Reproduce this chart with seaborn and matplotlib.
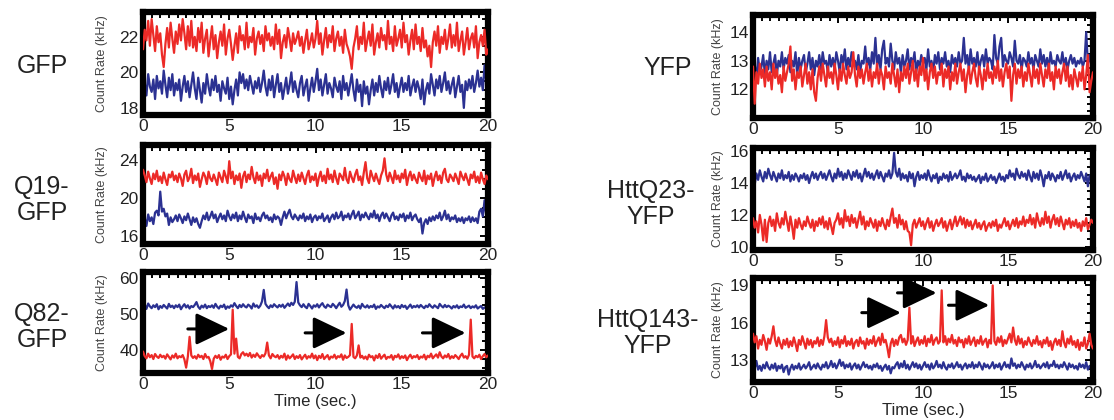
import numpy as np
import pandas as pd
import matplotlib
matplotlib.use("Agg")
import matplotlib.pyplot as plt
from matplotlib.ticker import AutoMinorLocator
import seaborn as sns

# ---- fluorescence count-rate traces (kHz), one sample every 0.1 s over 20 s ----
DT = 0.1

gfp_red = [
    21.3, 22.4, 21.8, 22.9, 21.5, 23.0, 22.1, 21.2, 22.6, 21.7,
    22.2, 21.0, 20.3, 21.6, 22.5, 21.4, 22.8, 21.9, 21.1, 22.3,
    21.6, 22.7, 21.8, 23.0, 22.2, 21.3, 22.6, 21.5, 22.9, 21.4,
    22.0, 21.2, 22.5, 21.7, 22.8, 21.1, 21.9, 22.4, 20.9, 21.8,
    22.6, 21.3, 22.1, 20.8, 21.7, 22.3, 21.5, 22.7, 21.0, 21.9,
    22.4, 21.6, 20.7, 21.5, 22.2, 21.1, 22.6, 21.8, 22.1, 21.3,
    22.8, 21.4, 22.0, 21.7, 22.5, 21.0, 21.9, 22.3, 21.6, 22.1,
    21.2, 22.6, 21.8, 22.2, 21.5, 22.0, 21.3, 22.7, 21.6, 22.4,
    20.8, 21.7, 22.1, 21.4, 22.5, 21.9, 21.2, 22.2, 21.6, 21.9,
    22.3, 21.5, 22.0, 21.1, 21.8, 22.4, 21.3, 21.7, 22.2, 21.4,
    21.9, 22.9, 21.6, 22.2, 21.0, 21.8, 22.5, 21.4, 22.1, 21.7,
    22.6, 21.2, 21.9, 22.3, 21.5, 22.0, 21.1, 22.4, 21.6, 21.3,
    20.9, 20.2, 21.4, 21.9, 22.6, 21.3, 22.0, 21.6, 22.8, 21.2,
    21.8, 22.3, 21.5, 22.7, 21.0, 21.7, 22.2, 21.4, 22.5, 21.8,
    22.1, 21.3, 22.9, 21.6, 22.0, 21.2, 22.6, 21.5, 21.9, 22.4,
    21.4, 22.8, 21.7, 22.1, 21.0, 21.8, 22.4, 21.3, 22.7, 21.6,
    22.0, 21.2, 22.5, 21.4, 21.8, 20.9, 21.5, 20.3, 21.7, 22.3,
    21.5, 22.6, 21.1, 22.0, 21.6, 22.4, 21.3, 21.9, 22.7, 21.4,
    22.1, 21.5, 22.8, 21.2, 21.8, 22.3, 21.0, 21.7, 22.5, 21.3,
    21.9, 22.2, 21.4, 22.6, 20.8, 21.7, 22.1, 21.5, 22.4, 21.0,
    21.3,
]
gfp_blue = [
    20.3, 19.4, 18.7, 19.9, 19.2, 18.9, 19.6, 18.5, 19.8, 19.1,
    19.5, 18.8, 20.1, 19.3, 18.6, 19.7, 19.0, 19.9, 18.7, 19.4,
    19.0, 19.6, 18.4, 19.2, 19.8, 18.9, 19.5, 18.6, 19.3, 20.0,
    19.1, 18.5, 19.7, 19.0, 18.3, 19.4, 18.8, 19.9, 19.2, 18.7,
    19.6, 19.0, 19.8, 18.9, 19.3, 18.4, 19.5, 19.1, 18.8, 19.7,
    18.5, 19.2, 18.2, 19.0, 19.6, 18.7, 20.0, 19.4, 19.9, 19.1,
    19.6, 19.0, 19.8, 19.3, 18.8, 19.5, 19.1, 19.7, 18.9, 19.4,
    20.1, 19.2, 18.7, 19.6, 19.0, 19.8, 18.6, 19.3, 19.9, 18.9,
    19.4, 18.5, 19.1, 19.7, 18.8, 19.3, 20.0, 18.9, 19.5, 19.0,
    18.6, 19.4, 19.8, 18.7, 19.2, 19.6, 18.4, 19.1, 19.7, 18.9,
    19.5, 20.2, 19.0, 19.6, 18.7, 19.3, 19.9, 18.8, 19.4, 19.1,
    18.6, 19.7, 19.2, 18.9, 19.5, 18.5, 19.8, 19.0, 19.4, 18.7,
    19.3, 19.9, 19.0, 18.4, 19.6, 18.9, 19.3, 18.1, 19.5, 18.8,
    19.2, 18.2, 19.0, 19.6, 18.7, 19.4, 18.9, 19.8, 19.1, 18.6,
    19.5, 19.0, 19.7, 18.8, 19.3, 19.9, 18.9, 19.4, 18.6, 19.2,
    19.7, 18.9, 19.4, 19.0, 19.8, 18.7, 19.2, 19.6, 18.9, 19.5,
    19.1, 18.5, 19.6, 18.2, 19.0, 19.4, 18.8, 19.9, 19.3, 18.7,
    19.6, 19.1, 19.8, 18.9, 19.4, 20.0, 19.0, 19.5, 18.8, 19.3,
    19.7, 18.6, 19.2, 19.8, 18.9, 19.3, 18.0, 19.5, 19.0, 19.6,
    19.1, 19.8, 18.9, 19.4, 20.1, 19.2, 19.7, 19.0, 20.4, 19.5,
    19.2,
]
q19_red = [
    23.0, 22.4, 21.7, 22.8, 22.1, 21.5, 22.6, 22.0, 22.9, 21.8,
    22.3, 21.6, 22.7, 22.0, 21.4, 22.5, 22.2, 22.8, 21.9, 22.4,
    21.7, 22.6, 22.1, 21.3, 22.5, 22.9, 21.8, 22.2, 23.1, 21.6,
    22.4, 21.9, 22.6, 21.2, 22.0, 22.7, 22.3, 21.5, 22.8, 22.1,
    21.8, 22.5, 22.0, 21.4, 22.7, 22.2, 21.7, 22.9, 22.3, 21.6,
    23.9, 22.1, 22.8, 21.5, 22.4, 21.9, 22.6, 21.1, 22.3, 22.8,
    21.7, 22.5, 22.0, 23.3, 22.2, 21.6, 22.7, 21.9, 22.4, 21.3,
    22.6, 22.1, 23.0, 21.8, 22.3, 22.7, 21.5, 22.2, 21.0, 22.5,
    21.9, 22.8, 22.3, 21.4, 22.6, 22.0, 21.7, 22.9, 22.2, 21.6,
    22.5, 21.8, 22.7, 22.1, 21.5, 22.4, 22.9, 21.7, 22.3, 21.9,
    22.6, 21.3, 22.2, 22.8, 21.8, 22.4, 21.6, 23.1, 22.0, 22.5,
    21.7, 22.9, 22.1, 21.5, 22.6, 22.3, 21.9, 23.2, 22.0, 21.6,
    22.8, 22.2, 21.7, 22.5, 23.0, 21.9, 22.3, 21.4, 22.7, 23.8,
    22.1, 21.6, 22.9, 22.3, 21.8, 22.6, 22.0, 21.5, 22.4, 22.9,
    24.2, 22.5, 21.8, 22.7, 22.2, 21.6, 22.9, 22.0, 22.4, 21.7,
    22.6, 22.1, 23.0, 21.4, 22.3, 22.8, 21.9, 22.5, 22.0, 21.6,
    22.7, 22.2, 21.8, 22.9, 21.5, 22.4, 22.0, 22.6, 21.3, 22.2,
    22.8, 21.9, 22.4, 21.6, 22.7, 23.1, 22.0, 21.7, 22.5, 22.2,
    21.8, 22.6, 22.1, 21.5, 22.8, 22.3, 21.9, 22.6, 22.0, 21.4,
    22.5, 22.1, 22.8, 21.7, 22.3, 21.6, 22.7, 22.0, 21.5, 22.4,
    22.0,
]
q19_blue = [
    17.4, 17.9, 17.1, 18.3, 17.6, 18.0, 17.3, 18.5, 18.7, 18.2,
    20.7, 18.6, 18.9, 18.1, 18.4, 17.2, 18.0, 17.5, 17.8, 18.2,
    17.6, 18.3, 17.9, 17.4, 18.1, 17.7, 18.4, 17.8, 17.2, 18.0,
    17.5, 17.9, 17.3, 16.9, 17.6, 18.2, 17.8, 18.5, 17.7, 18.1,
    18.6, 17.9, 18.3, 17.5, 18.0, 18.4, 17.8, 18.2, 17.6, 18.7,
    18.1, 17.7, 18.3, 17.9, 18.5, 17.6, 18.2, 17.8, 18.6, 18.0,
    17.5, 18.3, 17.9, 18.1, 17.4, 18.4, 17.8, 18.0, 17.6, 18.2,
    18.5, 17.9, 18.2, 17.7, 18.0, 17.5, 18.3, 17.8, 18.1, 17.9,
    17.2, 18.0, 18.6, 17.9, 18.4, 18.8, 18.1, 17.8, 18.3, 18.0,
    17.7, 18.2, 17.9, 18.4, 17.6, 18.1, 17.8, 18.3, 17.5, 18.0,
    18.2, 17.7, 18.1, 17.9, 18.4, 17.6, 17.9, 18.2, 17.5, 18.0,
    18.3, 17.8, 18.5, 17.9, 18.1, 18.6, 17.7, 18.2, 18.0, 18.4,
    17.8, 18.3, 18.7, 17.9, 18.2, 18.6, 17.7, 18.3, 18.0, 18.5,
    18.1, 17.8, 18.4, 18.0, 18.7, 17.9, 18.3, 17.6, 18.2, 18.5,
    17.9, 18.4, 18.0, 17.6, 18.2, 18.5, 17.8, 18.1, 17.7, 18.3,
    18.0, 18.4, 17.6, 18.2, 17.9, 18.5, 17.7, 18.1, 18.3, 17.8,
    17.5, 17.9, 16.3, 17.4, 17.8, 17.3, 18.0, 17.6, 18.1, 17.7,
    18.2, 17.9, 18.5, 17.7, 18.1, 18.7, 17.8, 18.3, 17.6, 18.0,
    17.8, 18.2, 17.5, 17.9, 17.6, 18.0, 17.4, 17.9, 17.7, 18.1,
    17.5, 18.0, 17.6, 17.9, 17.4, 18.6, 18.9, 18.1, 19.8, 18.2,
    17.6,
]
q82_red = [
    39.5, 38.2, 37.6, 38.9, 37.9, 38.5, 37.4, 38.8, 38.1, 37.7,
    38.6, 37.9, 38.3, 37.5, 38.7, 38.0, 37.3, 38.4, 37.8, 38.9,
    37.6, 38.2, 37.9, 38.5, 37.3, 35.0, 38.1, 43.6, 38.4, 37.7,
    38.2, 37.5, 38.6, 37.9, 38.3, 37.4, 38.8, 37.8, 38.0, 36.8,
    34.6, 37.5, 38.3, 37.7, 38.5, 37.2, 38.1, 37.8, 38.6, 37.4,
    38.2, 38.7, 51.2, 38.9, 43.1, 38.0, 37.6, 38.8, 39.3, 38.4,
    38.9, 38.2, 39.1, 37.8, 38.6, 38.0, 39.0, 38.3, 37.7, 38.5,
    38.1, 39.0, 42.0, 38.4, 37.6, 38.8, 38.2, 37.9, 38.5, 37.5,
    38.3, 37.8, 38.9, 37.2, 38.4, 37.6, 38.1, 38.7, 37.4, 38.2,
    37.7, 38.5, 37.3, 38.0, 38.6, 37.5, 38.2, 37.8, 38.9, 37.6,
    38.4, 37.1, 38.3, 37.7, 38.8, 37.4, 38.0, 38.5, 37.3, 38.1,
    37.8, 38.6, 37.5, 38.2, 37.9, 38.7, 37.2, 38.4, 37.7, 38.0,
    38.5, 47.2, 38.0, 37.6, 38.4, 41.2, 37.8, 38.3, 37.5, 38.1,
    37.3, 38.6, 37.9, 38.2, 37.0, 38.4, 37.7, 38.8, 37.5, 38.1,
    38.6, 37.4, 38.0, 37.8, 38.5, 37.2, 38.3, 37.9, 38.7, 37.5,
    38.2, 37.7, 38.4, 37.1, 38.0, 38.6, 37.6, 38.2, 37.9, 38.5,
    37.4, 38.1, 37.8, 38.6, 37.3, 38.3, 37.9, 38.9, 37.6, 38.2,
    38.7, 37.8, 39.3, 38.1, 37.6, 38.4, 37.9, 38.8, 37.5, 38.2,
    37.7, 38.5, 38.0, 37.4, 38.3, 38.9, 37.8, 38.2, 37.5, 38.6,
    48.4, 38.1, 37.6, 38.3, 37.9, 38.6, 37.4, 38.2, 38.8, 37.9,
    38.4,
]
q82_blue = [
    51.8, 52.6, 51.4, 52.9, 52.1, 51.6, 52.4, 51.9, 52.7, 51.3,
    52.2, 51.7, 52.5, 52.0, 51.5, 52.8, 51.9, 52.3, 51.6, 52.4,
    51.9, 52.6, 51.3, 52.1, 52.7, 51.8, 52.4, 51.5, 52.2, 51.9,
    52.5, 53.3, 52.0, 51.4, 52.3, 51.8, 52.6, 51.6, 52.2, 51.9,
    52.4, 51.7, 52.8, 52.0, 51.5, 52.3, 51.9, 52.6, 51.4, 52.1,
    51.7, 52.4, 52.0, 53.0, 52.2, 51.6, 52.5, 51.9, 52.7, 52.1,
    51.8, 52.6, 52.2, 51.5, 52.9, 52.0, 52.4, 51.7, 52.3, 53.5,
    56.7, 52.8, 52.1, 51.6, 52.4, 51.9, 52.7, 52.2, 51.8, 52.5,
    52.0, 52.6, 51.7, 52.3, 52.9, 52.2, 53.1, 52.5, 53.4, 58.9,
    53.2, 52.4, 51.9, 52.7, 52.0, 51.6, 52.8, 52.2, 51.5, 52.4,
    52.0, 52.7, 51.8, 52.5, 53.0, 52.1, 51.7, 52.6, 52.2, 51.9,
    52.8, 52.3, 51.6, 52.4, 53.1, 52.0, 52.5, 53.6, 56.8, 52.4,
    51.2, 51.9, 52.6, 52.0, 51.7, 52.3, 51.5, 52.8, 52.1, 51.8,
    52.4, 51.7, 52.2, 51.9, 52.6, 51.4, 52.1, 51.8, 52.5, 52.0,
    51.6, 52.3, 51.9, 52.7, 52.1, 51.5, 52.4, 51.8, 52.2, 51.6,
    52.5, 51.9, 52.3, 51.4, 52.0, 52.6, 51.7, 52.2, 51.9, 52.4,
    51.8, 52.5, 52.0, 51.6, 52.3, 51.9, 52.7, 52.1, 51.7, 52.4,
    52.0, 51.6, 52.8, 52.2, 51.8, 52.5, 51.9, 52.3, 52.0, 51.5,
    52.2, 51.8, 52.4, 51.6, 52.1, 51.9, 52.6, 51.7, 52.0, 52.3,
    51.6, 52.1, 51.8, 52.4, 51.5, 51.9, 52.2, 51.4, 51.8, 51.6,
    51.9,
]
yfp_blue = [
    12.4, 12.9, 12.3, 13.1, 12.6, 12.8, 13.2, 12.5, 13.0, 12.7,
    13.3, 12.6, 12.9, 13.2, 12.5, 13.0, 12.8, 13.3, 12.7, 13.1,
    12.9, 13.2, 12.6, 13.0, 12.8, 13.3, 12.5, 13.1, 12.7, 13.0,
    13.2, 12.6, 12.9, 13.3, 12.7, 13.1, 12.5, 13.0, 12.8, 13.2,
    12.7, 13.3, 12.9, 13.0, 12.6, 13.2, 12.8, 13.1, 12.7, 13.3,
    13.0, 12.6, 13.2, 12.9, 13.4, 12.7, 13.1, 12.8, 13.3, 12.9,
    13.0, 12.7, 13.2, 12.6, 13.0, 12.9, 13.5, 12.8, 13.1, 12.7,
    13.3, 12.9, 13.8, 12.8, 13.2, 12.7, 13.4, 13.7, 12.9, 13.1,
    12.8, 13.6, 13.0, 12.7, 13.3, 12.9, 13.1, 12.6, 13.2, 12.8,
    13.0, 13.4, 12.7, 13.1, 12.9, 13.3, 12.6, 13.0, 12.8, 13.2,
    12.9, 13.1, 12.7, 13.4, 12.8, 13.0, 12.6, 13.2, 12.9, 13.3,
    12.7, 13.1, 12.9, 13.3, 12.8, 13.0, 12.6, 13.2, 12.9, 13.1,
    12.8, 13.3, 12.9, 13.0, 13.8, 12.9, 13.2, 12.7, 13.4, 12.9,
    13.1, 12.8, 13.3, 12.7, 13.0, 13.2, 12.8, 13.4, 12.9, 13.1,
    13.0, 12.7, 13.9, 13.1, 12.9, 13.5, 13.8, 12.8, 13.2, 13.0,
    12.9, 13.3, 13.1, 12.8, 13.7, 13.0, 12.9, 13.2, 12.7, 13.1,
    13.0, 12.8, 13.3, 12.9, 13.1, 12.7, 13.2, 13.0, 12.8, 13.4,
    12.9, 13.2, 12.8, 13.1, 12.7, 13.3, 12.9, 13.0, 12.8, 13.2,
    13.0, 12.9, 13.3, 12.8, 13.1, 12.7, 13.0, 13.2, 12.9, 13.1,
    12.8, 13.0, 12.9, 13.1, 12.8, 13.0, 14.0, 12.9, 13.2, 12.8,
    12.6,
]
yfp_red = [
    12.8, 11.5, 12.6, 12.2, 12.9, 12.4, 12.7, 12.1, 12.8, 12.3,
    12.6, 12.0, 12.9, 12.4, 12.7, 12.2, 12.5, 11.9, 12.8, 12.3,
    12.6, 12.9, 13.5, 12.3, 12.7, 12.0, 12.6, 12.4, 12.8, 12.1,
    12.5, 12.9, 12.2, 12.6, 12.0, 12.7, 11.9, 11.6, 12.4, 12.8,
    12.3, 12.9, 12.5, 12.1, 12.8, 12.4, 12.6, 12.2, 12.9, 12.5,
    12.0, 12.7, 12.3, 12.9, 12.5, 12.2, 12.8, 12.4, 12.6, 13.3,
    12.5, 12.1, 12.8, 12.4, 12.7, 12.2, 12.6, 12.9, 12.3, 12.7,
    12.1, 12.6, 12.4, 12.9, 12.2, 12.7, 12.5, 12.0, 12.8, 12.4,
    12.6, 12.2, 12.9, 12.5, 12.1, 12.7, 11.9, 12.6, 12.3, 12.8,
    12.4, 12.9, 12.2, 12.6, 13.0, 12.3, 12.7, 12.1, 12.8, 12.5,
    13.1, 12.3, 12.7, 12.0, 12.6, 12.9, 12.4, 12.8, 12.2, 12.6,
    12.5, 12.9, 12.1, 12.7, 12.4, 12.8, 12.0, 12.6, 12.3, 12.9,
    12.2, 12.6, 12.9, 12.3, 12.7, 11.9, 12.5, 12.8, 12.2, 12.6,
    12.9, 12.4, 12.1, 12.8, 12.5, 12.0, 12.7, 12.3, 12.9, 12.4,
    12.6, 12.2, 12.8, 12.4, 13.0, 12.3, 12.7, 12.1, 12.6, 12.9,
    12.4, 12.8, 11.6, 12.5, 12.9, 12.2, 12.7, 12.4, 12.8, 12.1,
    12.6, 12.3, 12.9, 12.5, 12.1, 12.8, 12.4, 12.7, 12.2, 12.9,
    12.5, 12.1, 12.7, 12.4, 12.9, 12.3, 12.6, 12.0, 12.8, 12.4,
    12.7, 12.2, 12.6, 12.9, 12.3, 12.8, 12.1, 12.5, 12.0, 12.7,
    12.4, 12.1, 12.6, 12.3, 12.8, 12.0, 12.5, 13.2, 11.9, 12.3,
    12.6,
]
htt23_blue = [
    14.8, 13.9, 14.6, 14.2, 14.8, 14.4, 14.1, 14.7, 14.3, 14.9,
    14.5, 14.2, 14.7, 14.4, 14.1, 14.6, 14.3, 14.8, 14.2, 14.5,
    14.3, 14.7, 14.1, 14.5, 14.2, 14.6, 14.4, 14.1, 14.5, 14.3,
    14.6, 14.2, 14.5, 14.0, 14.4, 14.7, 14.3, 14.6, 14.2, 14.5,
    14.7, 14.3, 14.6, 14.2, 14.5, 14.8, 14.4, 14.1, 14.6, 14.3,
    14.9, 14.4, 14.7, 14.2, 14.6, 14.3, 14.8, 14.5, 14.2, 14.7,
    14.4, 14.8, 14.3, 14.6, 14.1, 14.5, 14.9, 14.4, 14.7, 14.3,
    14.6, 14.2, 14.5, 14.8, 14.3, 14.7, 14.4, 14.1, 14.6, 14.4,
    14.8, 14.3, 14.6, 15.9, 14.7, 14.4, 14.9, 14.2, 14.6, 14.3,
    14.5, 14.1, 14.7, 14.3, 14.6, 13.8, 14.4, 14.7, 14.2, 14.5,
    14.3, 14.6, 14.2, 14.8, 14.4, 14.1, 14.5, 14.3, 14.6, 14.0,
    14.4, 14.2, 14.6, 14.3, 14.5, 14.1, 14.7, 14.2, 14.4, 14.6,
    14.3, 14.5, 14.8, 14.2, 14.4, 14.1, 14.6, 14.3, 14.5, 14.2,
    14.4, 14.1, 14.3, 14.5, 14.0, 14.4, 14.2, 14.6, 14.1, 14.3,
    14.5, 14.2, 14.4, 14.0, 14.3, 14.6, 14.2, 14.4, 14.1, 14.5,
    14.3, 14.8, 14.4, 14.6, 14.2, 14.9, 14.5, 14.3, 14.7, 14.4,
    14.6, 14.2, 14.8, 14.4, 14.1, 14.7, 14.3, 14.6, 14.2, 14.8,
    14.4, 13.8, 14.5, 14.3, 14.7, 14.2, 14.6, 14.4, 14.1, 14.5,
    14.3, 14.7, 14.2, 14.5, 14.8, 14.3, 14.6, 14.1, 14.4, 14.6,
    14.2, 14.5, 14.3, 14.7, 14.4, 14.1, 14.6, 13.8, 14.5, 14.3,
    14.4,
]
htt23_red = [
    11.8, 11.2, 11.6, 10.9, 12.0, 11.4, 10.4, 11.7, 10.3, 11.5,
    11.9, 11.3, 11.7, 11.0, 12.1, 11.5, 11.2, 11.8, 11.4, 12.2,
    11.6, 11.0, 11.9, 11.3, 10.5, 11.7, 11.2, 11.8, 11.4, 11.1,
    11.6, 11.3, 11.9, 11.5, 11.2, 11.7, 11.0, 11.6, 11.3, 11.8,
    11.4, 11.9, 11.2, 11.6, 11.1, 11.8, 11.3, 10.8, 11.5, 11.7,
    12.1, 11.4, 11.8, 11.2, 12.3, 11.6, 11.9, 11.3, 12.0, 11.5,
    11.8, 11.2, 11.7, 12.2, 11.4, 11.9, 11.1, 11.6, 11.3, 11.8,
    11.5, 11.2, 11.7, 11.0, 11.6, 11.3, 11.8, 11.4, 11.1, 11.7,
    11.3, 11.9, 12.4, 11.5, 11.8, 11.2, 12.0, 11.4, 11.7, 11.1,
    11.6, 11.0, 10.9, 10.1, 11.4, 11.7, 11.2, 11.5, 11.8, 11.3,
    11.6, 11.1, 11.5, 11.8, 11.2, 11.6, 11.0, 11.4, 11.7, 11.3,
    11.5, 11.8, 11.2, 11.6, 11.0, 11.4, 11.7, 11.1, 11.5, 11.9,
    11.3, 11.6, 11.9, 11.4, 11.8, 11.2, 11.7, 11.3, 11.6, 11.1,
    11.4, 11.7, 11.2, 11.5, 11.1, 11.4, 11.6, 11.0, 11.3, 11.5,
    11.2, 11.6, 11.3, 11.7, 11.0, 11.4, 11.2, 11.5, 11.8, 11.3,
    11.6, 11.1, 11.4, 11.7, 11.3, 11.8, 11.2, 11.6, 11.4, 11.9,
    11.3, 11.7, 11.5, 12.0, 11.4, 11.8, 11.2, 12.1, 11.6, 11.3,
    11.8, 11.4, 12.2, 11.5, 11.9, 11.2, 11.7, 12.0, 11.4, 11.8,
    11.3, 11.9, 11.5, 11.1, 11.7, 11.4, 11.8, 11.2, 11.6, 11.3,
    11.7, 11.2, 11.5, 11.0, 11.6, 11.3, 11.8, 11.1, 11.4, 11.7,
    11.5,
]
htt143_red = [
    15.1, 14.4, 14.9, 13.9, 14.6, 14.2, 15.0, 14.5, 13.8, 14.7,
    14.3, 14.9, 15.7, 14.6, 14.1, 14.8, 14.3, 13.9, 14.6, 14.2,
    14.7, 14.0, 14.5, 14.1, 14.8, 14.3, 13.7, 14.6, 14.2, 14.9,
    14.4, 13.9, 14.7, 14.2, 14.6, 14.0, 14.5, 14.3, 14.8, 14.1,
    14.6, 14.2, 14.9, 16.2, 14.8, 14.4, 14.7, 14.1, 14.5, 14.2,
    14.8, 14.0, 14.6, 14.3, 14.9, 14.1, 14.5, 14.2, 14.7, 13.9,
    14.4, 14.6, 14.1, 14.8, 14.3, 14.5, 13.9, 14.7, 14.2, 14.6,
    14.3, 14.9, 14.1, 14.5, 14.8, 14.2, 15.1, 14.4, 14.6, 14.0,
    13.2, 14.3, 14.7, 14.1, 14.6, 14.2, 14.8, 15.0, 14.4, 14.7,
    14.2, 14.6, 17.2, 14.3, 14.9, 14.1, 14.5, 14.8, 14.2, 14.6,
    14.3, 14.9, 14.1, 14.7, 14.4, 15.0, 14.2, 14.6, 14.8, 14.3,
    14.5, 18.6, 14.4, 14.9, 14.2, 14.7, 14.4, 15.0, 14.3, 14.6,
    14.1, 14.8, 14.4, 14.6, 14.0, 14.7, 14.3, 14.9, 14.2, 14.5,
    14.8, 14.1, 14.6, 14.3, 14.9, 14.2, 14.5, 14.7, 14.0, 14.6,
    14.3, 19.0, 14.5, 14.2, 14.8, 14.4, 14.9, 14.1, 14.6, 14.3,
    14.7, 15.1, 14.4, 15.6, 14.6, 14.2, 14.9, 14.3, 14.7, 14.0,
    14.5, 14.2, 14.8, 14.4, 14.1, 14.6, 14.3, 14.9, 14.2, 14.5,
    14.0, 14.6, 14.3, 14.8, 14.1, 14.5, 13.8, 14.4, 14.7, 14.2,
    14.6, 14.1, 15.3, 14.4, 14.0, 14.7, 14.3, 14.9, 14.2, 14.5,
    14.0, 14.6, 13.8, 14.4, 14.1, 14.8, 13.9, 14.3, 15.1, 14.2,
    13.9,
]
htt143_blue = [
    12.7, 12.3, 12.9, 12.2, 12.5, 12.1, 12.6, 12.3, 12.8, 12.4,
    12.2, 12.6, 12.3, 12.7, 12.1, 12.5, 12.3, 12.6, 12.0, 12.4,
    12.5, 11.8, 12.3, 12.6, 12.2, 12.5, 12.3, 12.7, 12.2, 12.4,
    12.6, 12.3, 12.5, 12.8, 12.2, 12.4, 12.6, 12.3, 12.7, 12.4,
    12.2, 12.6, 12.4, 12.8, 12.3, 12.5, 12.9, 12.4, 12.7, 12.3,
    12.6, 13.0, 12.5, 12.8, 12.3, 12.6, 12.4, 12.7, 12.2, 12.5,
    12.7, 12.3, 12.6, 12.2, 12.5, 12.8, 12.4, 12.6, 12.3, 12.5,
    12.2, 12.6, 12.4, 12.7, 12.3, 12.5, 12.1, 12.4, 12.6, 12.2,
    12.5, 11.9, 12.4, 12.3, 12.6, 12.8, 12.3, 12.7, 12.4, 12.9,
    12.3, 12.6, 12.2, 12.5, 12.8, 12.4, 12.7, 12.3, 12.6, 12.2,
    12.5, 12.8, 12.4, 12.6, 12.2, 12.7, 12.3, 12.5, 12.9, 12.4,
    12.6, 12.3, 12.8, 12.4, 12.2, 12.6, 12.4, 12.7, 12.3, 12.5,
    12.8, 12.4, 12.6, 12.2, 12.5, 12.7, 12.3, 12.6, 12.4, 12.8,
    12.3, 12.6, 12.4, 12.8, 12.5, 12.2, 12.7, 12.4, 12.6, 12.3,
    12.5, 12.8, 12.3, 12.6, 12.4, 12.7, 12.2, 12.5, 12.8, 12.4,
    12.6, 12.3, 13.1, 12.5, 12.7, 12.3, 12.6, 12.4, 12.8, 12.5,
    12.2, 12.6, 12.4, 12.7, 12.3, 12.5, 12.9, 12.4, 12.6, 12.3,
    12.5, 12.7, 12.4, 12.8, 12.3, 12.6, 12.5, 12.9, 12.4, 12.6,
    12.3, 12.6, 12.4, 12.8, 12.5, 12.2, 12.7, 12.4, 12.6, 12.3,
    12.5, 12.2, 12.7, 12.4, 12.6, 12.3, 12.8, 12.2, 12.5, 12.3,
    12.4,
]

# ---- panel labels, axis ranges, ticks ----
panel_names = ["GFP", "Q19-\nGFP", "Q82-\nGFP", "YFP", "HttQ23-\nYFP", "HttQ143-\nYFP"]
panel_blue = [gfp_blue, q19_blue, q82_blue, yfp_blue, htt23_blue, htt143_blue]
panel_red = [gfp_red, q19_red, q82_red, yfp_red, htt23_red, htt143_red]
panel_ylim = [(17.6, 23.4), (15.2, 25.6), (33.5, 61.7), (11.0, 14.6), (9.8, 16.2), (11.2, 19.6)]
panel_yticks = [[18, 20, 22], [16, 20, 24], [40, 50, 60], [12, 13, 14], [10, 12, 14, 16], [13, 16, 19]]
x_ticks = [0, 5, 10, 15, 20]

# arrows pointing at bright bursts: (panel, tail x, tip x, y)
arrow_marks = [
    (2, 2.6, 5.0, 45.8), (2, 9.4, 11.8, 44.7), (2, 16.2, 18.7, 44.7),
    (5, 6.4, 8.7, 16.8), (5, 8.5, 10.8, 18.4), (5, 11.5, 13.9, 17.4),
]

RED = "#ec2a27"
BLUE = "#2b3192"

sns.set_style("white")
plt.rcParams["font.family"] = ["Liberation Sans", "DejaVu Sans"]

W, H = 1114.0, 420.0
fig = plt.figure(figsize=(W / 100, H / 100), dpi=100)
# axes boxes in pixels: left, top, right, bottom
boxes = [
    (143, 12, 488, 115), (143, 145, 488, 244), (143, 272, 488, 373),
    (753, 15, 1093, 118), (753, 148, 1093, 250), (753, 278, 1093, 382),
]
label_pos = [(42, 66), (42, 200), (42, 327), (668, 68), (651, 204), (648, 333)]

axes = []
for k, (l, t, r, b) in enumerate(boxes):
    ax = fig.add_axes([l / W, 1 - b / H, (r - l) / W, (b - t) / H])
    axes.append(ax)
    n = len(panel_blue[k])
    frame = pd.DataFrame({
        "time": np.arange(n) * DT,
        "blue": panel_blue[k],
        "red": panel_red[k],
    })
    sns.lineplot(data=frame, x="time", y="blue", ax=ax, color=BLUE, lw=1.6, zorder=2)
    sns.lineplot(data=frame, x="time", y="red", ax=ax, color=RED, lw=1.6, zorder=3)
    ax.set_xlim(0, 20)
    ax.set_ylim(*panel_ylim[k])
    ax.set_xticks(x_ticks)
    ax.set_yticks(panel_yticks[k])
    ax.set_xticklabels([str(v) for v in x_ticks])
    ax.set_xlabel("Time (sec.)" if k in (2, 5) else "", fontsize=12, labelpad=1)
    ax.set_ylabel("Count Rate (kHz)", fontsize=9, color="#444444")
    ax.yaxis.set_label_coords(-0.101 if k < 3 else -0.085, 0.5)
    for s in ax.spines.values():
        s.set_visible(True)
        s.set_linewidth(4.5)
        s.set_color("black")
    ax.xaxis.set_minor_locator(AutoMinorLocator(10))
    ax.yaxis.set_minor_locator(AutoMinorLocator(4))
    ax.tick_params(which="both", direction="in", top=True, right=True,
                   color="black", width=1.4)
    ax.tick_params(which="major", length=6, labelsize=12.5, pad=3,
                   labelcolor="#222222")
    ax.tick_params(which="minor", length=4.5)
    fig.text(label_pos[k][0] / W, 1 - label_pos[k][1] / H, panel_names[k],
             fontsize=18, ha="center", va="center", linespacing=1.12,
             color="#222222")

for k, x0, x1, y in arrow_marks:
    axes[k].annotate("", xy=(x1, y), xytext=(x0, y),
                     arrowprops=dict(arrowstyle="-|>,head_length=1.15,head_width=0.55",
                                     color="black", lw=2.2, mutation_scale=18,
                                     shrinkA=0, shrinkB=0), zorder=5)

fig.savefig("out.png", dpi=100)
